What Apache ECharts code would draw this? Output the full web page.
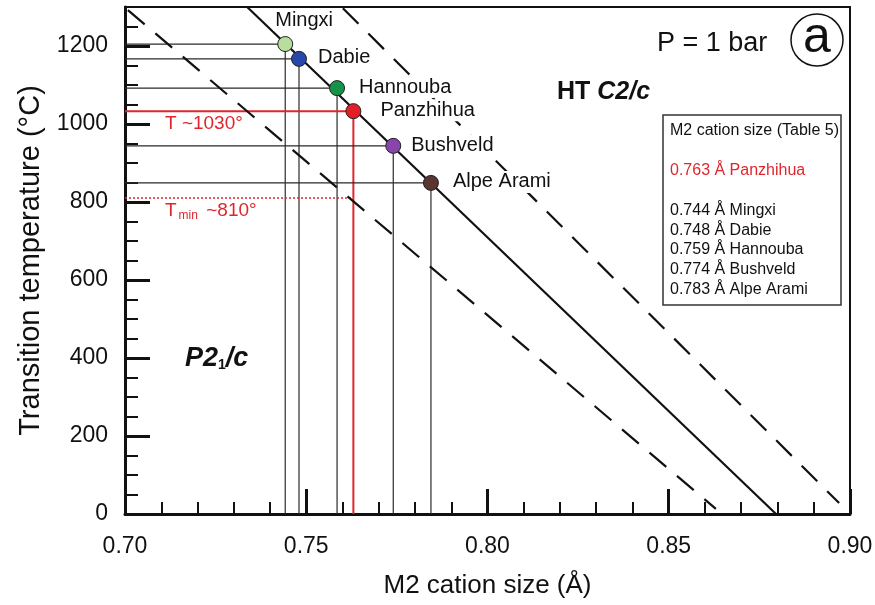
<!DOCTYPE html>
<html>
<head>
<meta charset="utf-8">
<script src="https://cdn.jsdelivr.net/npm/echarts@6/dist/echarts.min.js"></script>
<style>
  html, body { margin: 0; padding: 0; background: #fff; }
  #main { width: 875px; height: 605px; }
</style>
</head>
<body>
<div id="main"></div>
<script>
var FONT = "'Liberation Sans', Arial, sans-serif";
var RED = '#e0262d';

// samples: M2 cation size (Å) vs transition temperature (°C), as plotted
var sampleNames = ['Mingxi', 'Dabie', 'Hannouba', 'Panzhihua', 'Bushveld', 'Alpe Arami'];
var sampleSize = [0.7442, 0.7480, 0.7585, 0.7630, 0.7740, 0.7844];
var sampleTemp = [1205, 1167, 1092, 1033, 944, 849];
var sampleColor = ['#b8de9c', '#2747aa', '#16934a', '#e41e26', '#8a45ac', '#5a3431'];
var labelOffset = [[-25, -24], [4, -1], [7, -1], [12, -1], [3, 0], [7, -1]];
var highlight = 'Panzhihua';

// sizes listed in the box (Table 5)
var tableSize = ['0.744', '0.748', '0.759', '0.763', '0.774', '0.783'];

// phase boundary and its dashed bounds (end points)
var solidLine = [[0.7337, 1300], [0.8796, 0]];
var dashLow = [[0.7008, 1292], [0.8630, 13]];
var dashHigh = [[0.7601, 1297], [0.8970, 28]];

// minimum temperature for Panzhihua
var tMin = 810;

var xRange = [0.70, 0.90];
var yRange = [0, 1300];

var chartDom = document.getElementById('main');
var myChart = echarts.init(chartDom);

var series = [];

// guide lines: horizontal from the y axis, then down to the x axis
sampleNames.forEach(function (n, i) {
  var red = n === highlight;
  series.push({
    type: 'line', silent: true, symbol: 'none', z: 3, animation: false,
    data: [[xRange[0], sampleTemp[i]], [sampleSize[i], sampleTemp[i]], [sampleSize[i], yRange[0]]],
    lineStyle: { color: red ? RED : '#2a2a2a', width: red ? 2 : 1.2 }
  });
});

var hi = sampleNames.indexOf(highlight);
series.push({
  type: 'line', silent: true, symbol: 'none', z: 3, animation: false,
  data: [[xRange[0], tMin], [sampleSize[hi], tMin]],
  lineStyle: { color: RED, width: 1.5, type: [2, 2] }
});

series.push({
  type: 'line', silent: true, symbol: 'none', z: 4, animation: false,
  data: solidLine, lineStyle: { color: '#111', width: 2.2 }
});
[dashLow, dashHigh].forEach(function (d) {
  series.push({
    type: 'line', silent: true, symbol: 'none', z: 4, animation: false,
    data: d, lineStyle: { color: '#111', width: 2.2, type: [22, 14] }
  });
});

series.push({
  type: 'scatter', z: 10, symbolSize: 15, animation: false,
  itemStyle: { borderColor: '#222', borderWidth: 1, opacity: 1 },
  label: {
    show: true, position: 'right', formatter: '{b}',
    fontFamily: FONT, fontSize: 20, color: '#111',
    backgroundColor: '#fff', padding: [1, 2]
  },
  data: sampleNames.map(function (n, i) {
    return {
      name: n, value: [sampleSize[i], sampleTemp[i]],
      itemStyle: { color: sampleColor[i] },
      label: { offset: labelOffset[i] }
    };
  })
});

// legend box lines
var legendTexts = [{ text: 'M2 cation size (Table 5)', fill: '#111' },
  { text: tableSize[hi] + ' Å ' + highlight, fill: RED }];
sampleNames.forEach(function (n, i) {
  if (n !== highlight) legendTexts.push({ text: tableSize[i] + ' Å ' + n, fill: '#111' });
});
var legendY = [131, 171, 211, 231, 250, 270, 290];

var graphic = [
  { type: 'text', left: 657, top: 30, z: 20,
    style: { text: 'P = 1 bar', fontFamily: FONT, fontSize: 27, fill: '#111' } },
  { type: 'circle', shape: { cx: 817, cy: 40, r: 26 }, z: 20,
    style: { fill: 'none', stroke: '#111', lineWidth: 1.5 } },
  { type: 'text', x: 817, y: 38, z: 20,
    style: { text: 'a', fontFamily: FONT, fontSize: 50, fill: '#111', align: 'center', verticalAlign: 'middle' } },
  { type: 'text', left: 557, top: 80, z: 20,
    style: { text: '{b|HT }{bi|C2/c}', fontFamily: FONT,
      rich: { b: { fontFamily: FONT, fontSize: 25, fontWeight: 'bold', fill: '#111' },
              bi: { fontFamily: FONT, fontSize: 25, fontWeight: 'bold', fontStyle: 'italic', fill: '#111' } } } },
  { type: 'text', left: 185, top: 345, z: 20,
    style: { text: '{bi|P2}{sub|1}{bi|/c}', fontFamily: FONT,
      rich: { bi: { fontFamily: FONT, fontSize: 27, fontWeight: 'bold', fontStyle: 'italic', fill: '#111' },
              sub: { fontFamily: FONT, fontSize: 14, fontWeight: 'bold', fill: '#111', padding: [14, 0, 0, 0] } } } },
  { type: 'text', left: 165, top: 114, z: 20,
    style: { text: 'T ~1030°', fontFamily: FONT, fontSize: 19, fill: RED } },
  { type: 'text', left: 165, top: 201, z: 20,
    style: { text: '{r|T}{s|min}{r| ~' + tMin + '°}', fontFamily: FONT,
      rich: { r: { fontFamily: FONT, fontSize: 19, fill: RED },
              s: { fontFamily: FONT, fontSize: 12, fill: RED, padding: [10, 3, 0, 2] } } } },
  { type: 'rect', shape: { x: 663, y: 115, width: 178, height: 190 }, z: 20,
    style: { fill: '#fff', stroke: '#333', lineWidth: 1.5 } }
];
legendTexts.forEach(function (t, i) {
  graphic.push({ type: 'text', x: 670, y: legendY[i], z: 21,
    style: { text: t.text, fontFamily: FONT, fontSize: 16, fill: t.fill, verticalAlign: 'middle' } });
});

var options = {
  backgroundColor: '#fff',
  animation: false,
  grid: { left: 125, right: 25, top: 7, bottom: 91, show: true, borderColor: '#111', borderWidth: 2,
    containLabel: false, outerBoundsMode: 'none' },
  xAxis: {
    type: 'value', min: xRange[0], max: xRange[1], interval: 0.05,
    name: 'M2 cation size (Å)', nameLocation: 'middle', nameGap: 59,
    nameTextStyle: { fontFamily: FONT, fontSize: 26, color: '#111' },
    axisLine: { onZero: false, lineStyle: { color: '#111', width: 3 } },
    axisTick: { inside: true, length: 25, lineStyle: { color: '#111', width: 3 } },
    minorTick: { show: true, splitNumber: 5, length: 12, lineStyle: { color: '#111', width: 2 } },
    axisLabel: { fontFamily: FONT, fontSize: 23, color: '#111', margin: 21,
      formatter: function (v) { return v.toFixed(2); } },
    splitLine: { show: false }
  },
  yAxis: [
    {
      // short ticks every 50
      type: 'value', min: yRange[0], max: yRange[1], interval: 50,
      axisLine: { show: false },
      axisTick: { inside: true, length: 13, lineStyle: { color: '#111', width: 2 } },
      axisLabel: { show: false },
      splitLine: { show: false }
    },
    {
      type: 'value', min: yRange[0], max: yRange[1], interval: 200, position: 'left',
      name: 'Transition temperature (°C)', nameLocation: 'middle', nameGap: 80,
      nameTextStyle: { fontFamily: FONT, fontSize: 29, color: '#111' },
      axisLine: { show: true, onZero: false, lineStyle: { color: '#111', width: 3 } },
      axisTick: { inside: true, length: 25, lineStyle: { color: '#111', width: 3 } },
      axisLabel: { fontFamily: FONT, fontSize: 23, color: '#111', margin: 17, showMaxLabel: false,
        formatter: function (v) { return String(v); } },
      splitLine: { show: false }
    }
  ],
  series: series,
  graphic: graphic
};

myChart.setOption(options);
</script>
</body>
</html>
